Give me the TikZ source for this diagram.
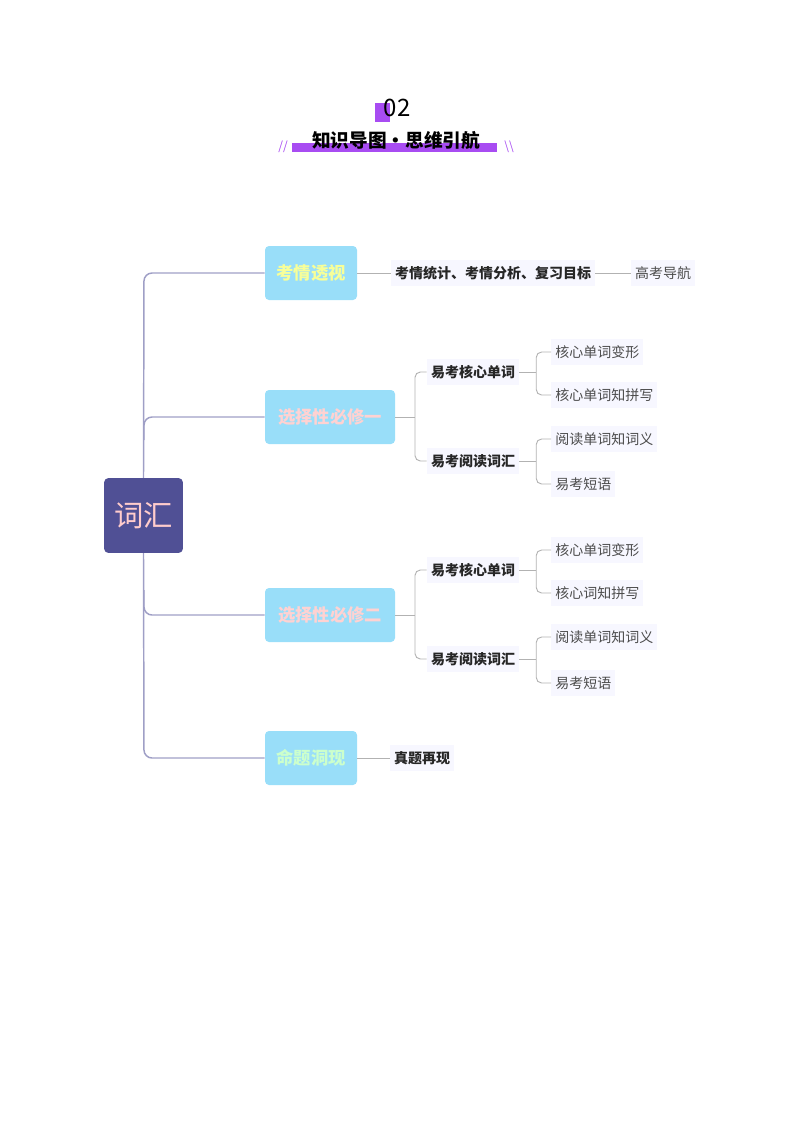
\documentclass[tikz,border=0pt]{standalone}
\usepackage{fontspec}
\setmainfont{Noto Sans CJK SC}
\begin{document}
\begin{tikzpicture}[x=0.75pt,y=-0.75pt,
  ln/.style={draw=gray!75!blue!60, line width=1.1pt, rounded corners=6pt},
  ln2/.style={draw=gray!60, line width=0.7pt, rounded corners=4pt},
  main/.style={fill=cyan!40!white, rounded corners=3pt, minimum height=40.5pt, font=\bfseries\fontsize{13}{15}\selectfont, inner sep=0pt},
  sub/.style={fill=blue!3, font=\bfseries\fontsize{10.5}{12}\selectfont, text=black!85, inner sep=3pt, minimum height=19pt},
  leaf/.style={fill=blue!3, font=\fontsize{10.5}{12}\selectfont, text=black!70, inner sep=3pt, minimum height=19pt}]
\useasboundingbox (0,0) rectangle (800,1132);
\definecolor{purp}{HTML}{A84CF2}
% title
\fill[purp] (375,103) rectangle (390,122);
\node (num) at (397,108) {\fontsize{18}{20}\selectfont 02};
\fill[purp] (292,143) rectangle (497,152);
\node (ttl) at (396,140) {\bfseries\fontsize{14}{16}\selectfont 知识导图·思维引航};
\node[text=purp] (sl) at (283,147) {\itshape\fontsize{9}{10}\selectfont //};
\node[text=purp] (sr) at (509,147) {\itshape\fontsize{9}{10}\selectfont \textbackslash\textbackslash};
% root
\node[fill=blue!30!gray!90!black, fill opacity=1, rounded corners=3pt, minimum width=59pt, minimum height=56pt, text=pink!80!white, font=\fontsize{22}{24}\selectfont] (root) at (143.5,515.5) {词汇};
% main nodes
\node[main, minimum width=69pt, text=lime!30!yellow!40!white] (m1) at (311,273) {考情透视};
\node[main, minimum width=97.5pt, text=pink!70!white] (m2) at (330,417) {选择性必修一};
\node[main, minimum width=97.5pt, text=pink!70!white] (m3) at (330,615) {选择性必修二};
\node[main, minimum width=69pt, text=green!20!white] (m4) at (311,758) {命题洞现};
\draw[ln] (root.north) -- (144,273) -- (m1.west);
\draw[ln] (144,440) |- (m2.west);
\draw[ln] (root.south) -- (144,758) -- (m4.west);
\draw[ln] (144,590) |- (m3.west);
% m1
\node[sub] (k1) at (493,273) {考情统计、考情分析、复习目标};
\node[leaf] (k2) at (663,273) {高考导航};
\draw[ln2] (m1.east) -- (k1.west);
\draw[ln2] (k1.east) -- (k2.west);
% m4
\node[sub] (z1) at (422,758) {真题再现};
\draw[ln2] (m4.east) -- (z1.west);
% m2 and m3
\foreach \m/\o in {m2/0,m3/198}{
  \node[sub] (\m a) at (473,372+\o) {易考核心单词};
  \node[sub] (\m b) at (473,461+\o) {易考阅读词汇};
  \draw[ln2] (\m.east) -- (415,417+\o);
  \draw[ln2] (\m a.west) -| (415,417+\o) |- (\m b.west);
}
\node[leaf,anchor=west] (m2a1) at (551,352) {核心单词变形};
\node[leaf,anchor=west] (m2a2) at (551,395) {核心单词知拼写};
\node[leaf,anchor=west] (m2b1) at (551,439) {阅读单词知词义};
\node[leaf,anchor=west] (m2b2) at (551,484) {易考短语};
\node[leaf,anchor=west] (m3a1) at (551,550) {核心单词变形};
\node[leaf,anchor=west] (m3a2) at (551,593) {核心词知拼写};
\node[leaf,anchor=west] (m3b1) at (551,637) {阅读单词知词义};
\node[leaf,anchor=west] (m3b2) at (551,683) {易考短语};
\foreach \p/\x/\y in {m2a/m2a1/m2a2,m2b/m2b1/m2b2,m3a/m3a1/m3a2,m3b/m3b1/m3b2}{
  \draw[ln2] (\p.east) -- ++(17,0) coordinate (c\p);
  \draw[ln2] (\x.west) -| (c\p) |- (\y.west);
}
\end{tikzpicture}
\end{document}
